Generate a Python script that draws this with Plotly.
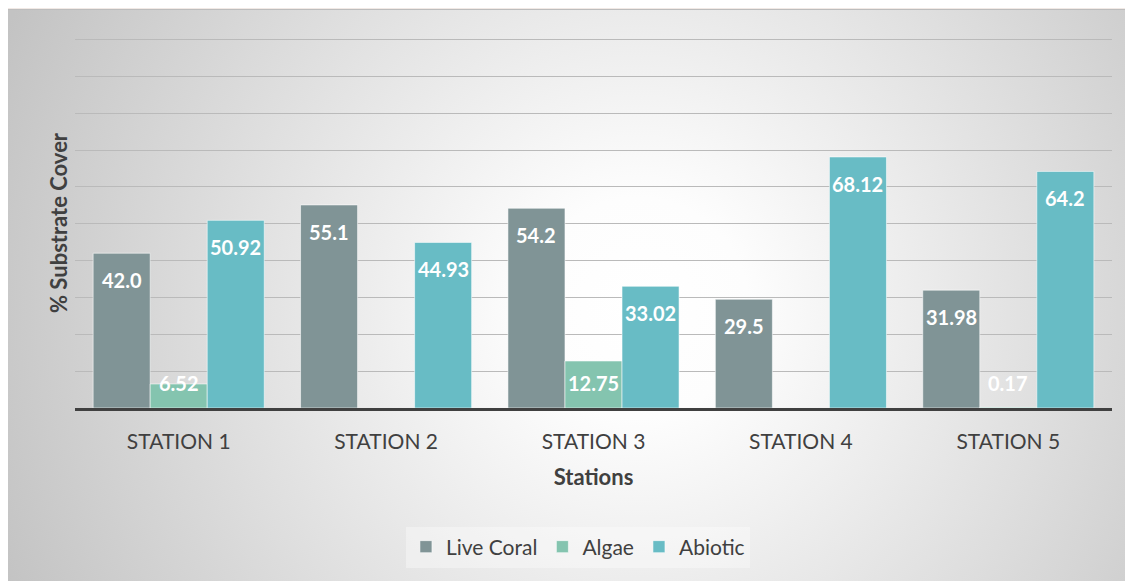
import base64
import plotly.graph_objects as go

# ---- data ----
stations = ["STATION 1", "STATION 2", "STATION 3", "STATION 4", "STATION 5"]
live_coral = [42.0, 55.1, 54.2, 29.5, 31.98]
algae = [6.52, None, 12.75, None, 0.17]
abiotic = [50.92, 44.93, 33.02, 68.12, 64.2]
live_coral_labels = ["42.0", "55.1", "54.2", "29.5", "31.98"]
algae_labels = ["6.52", "", "12.75", "", "0.17"]
abiotic_labels = ["50.92", "44.93", "33.02", "68.12", "64.2"]

series = [
    ("Live Coral", live_coral, live_coral_labels, "#809496"),
    ("Algae", algae, algae_labels, "#84c4af"),
    ("Abiotic", abiotic, abiotic_labels, "#68bcc5"),
]

# page has an 8px body margin, so the figure is 8px smaller each way
W, H = 1125, 573
L, R, T, B = 67, 21, 30, 173
BARGAP = 0.175
FONT = "Lato"
YMAX = 100.4

svg = f"""<svg xmlns='http://www.w3.org/2000/svg' width='{W}' height='{H}' viewBox='0 0 {W} {H}'>
<defs>
<radialGradient id='g' gradientUnits='userSpaceOnUse' cx='630' cy='300' r='690'>
<stop offset='0' stop-color='#ffffff'/>
<stop offset='0.16' stop-color='#fdfdfd'/>
<stop offset='1' stop-color='#c3c3c3'/>
</radialGradient>
</defs>
<rect x='0' y='0' width='{W}' height='{H}' fill='#f1e9e5'/>
<rect x='0' y='1' width='{W}' height='{H}' fill='url(#g)'/>
<line x1='0' y1='1.5' x2='{W}' y2='1.5' stroke='#bdbdbd' stroke-width='1'/>
</svg>"""
src = "data:image/svg+xml;base64," + base64.b64encode(svg.encode()).decode()

pw = W - L - R
ph = H - T - B

fig = go.Figure()
for name, vals, labels, color in series:
    fig.add_trace(go.Bar(
        name=name, x=stations, y=vals,
        marker=dict(color=color, line=dict(color="rgba(255,255,255,0.55)", width=1)),
        hoverinfo="x+y",
    ))

# value labels (inside end, clamped near the baseline like the source)
bw = (1 - BARGAP) / len(series)
ann = []
for si, (name, vals, labels, color) in enumerate(series):
    off = (si - (len(series) - 1) / 2) * bw
    for ci, (v, lab) in enumerate(zip(vals, labels)):
        if v is None or lab == "":
            continue
        ann.append(dict(
            x=ci + off, y=max(v, 14.1), xref="x", yref="y",
            text=f"<b>{lab}</b>", showarrow=False, yanchor="middle",
            yshift=-27, font=dict(family=FONT, size=20, color="white"),
        ))

ann.append(dict(
    x=-(L - 50) / pw, y=0.5, xref="paper", yref="paper", textangle=-90,
    text="<b>% Substrate Cover</b>", showarrow=False,
    xanchor="center", yanchor="middle",
    font=dict(family=FONT, size=22, color="#404040"),
))

fig.update_layout(
    width=W, height=H,
    margin=dict(l=L, r=R, t=T, b=B, autoexpand=False),
    paper_bgcolor="rgba(0,0,0,0)", plot_bgcolor="rgba(0,0,0,0)",
    barmode="group", bargap=BARGAP, bargroupgap=0,
    font=dict(family=FONT, color="#404040"),
    images=[dict(source=src, xref="paper", yref="paper",
                 x=-L / pw, y=(H - B) / ph, sizex=W / pw, sizey=H / ph,
                 sizing="stretch", layer="below", xanchor="left", yanchor="top")],
    annotations=ann,
    showlegend=True,
    legend=dict(orientation="h", x=0.485, xanchor="center",
                y=-(539 - (H - B)) / ph, yanchor="middle",
                bgcolor="rgba(255,255,255,0.35)",
                font=dict(family=FONT, size=21, color="#404040"),
                itemwidth=30, traceorder="normal"),
    xaxis=dict(
        showgrid=False, showline=True, linecolor="#404040", linewidth=3,
        ticks="", ticklabelstandoff=13,
        tickfont=dict(family=FONT, size=21, color="#404040"),
        title=dict(text="<b>Stations</b>", standoff=18,
                   font=dict(family=FONT, size=22, color="#404040")),
    ),
    yaxis=dict(
        range=[0, YMAX], dtick=10, showticklabels=False, ticks="",
        showgrid=True, gridcolor="#bababa", gridwidth=1.3, zeroline=False,
    ),
)

fig.write_html("out.html")
